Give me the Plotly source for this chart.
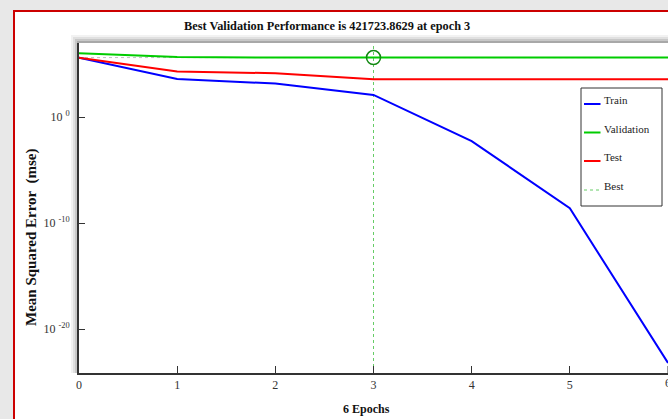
import plotly.graph_objects as go

# ---- data ----
epochs = [0, 1, 2, 3, 4, 5, 6]
train = [4.17e5, 4.07e3, 1.48e3, 1.26e2, 5.5e-3, 2.5e-9, 6.3e-24]
validation = [1.1e6, 4.9e5, 4.25e5, 421723.8629, 4.23e5, 4.23e5, 4.23e5]
test = [4.17e5, 2.0e4, 1.4e4, 3.8e3, 3.8e3, 3.8e3, 3.8e3]
best_epoch = 3
best_perf = 421723.8629
ytick_vals = [1e0, 1e-10, 1e-20]
ytick_text = ["10 <sup>0</sup>", "10 <sup>-10</sup>", "10 <sup>-20</sup>"]
xtick_vals = [0, 1, 2, 3, 4, 5, 6]
legend_names = ["Train", "Validation", "Test", "Best"]

W, H = 668, 419
L, R, T, B = 79, 0, 43, 46
pw, ph = W - L - R, H - T - B

def px(x):
    return (x - L) / pw

def py(y):
    return (H - B - y) / ph

serif = "Liberation Serif, Times New Roman, serif"
C_TRAIN, C_VAL, C_TEST, C_BEST = "#0000ff", "#00cc00", "#ff0000", "#66cc66"

fig = go.Figure()
fig.add_trace(go.Scatter(x=epochs, y=train, mode="lines", name="Train",
                         line=dict(color=C_TRAIN, width=2)))
fig.add_trace(go.Scatter(x=epochs, y=validation, mode="lines", name="Validation",
                         line=dict(color=C_VAL, width=2)))
fig.add_trace(go.Scatter(x=epochs, y=test, mode="lines", name="Test",
                         line=dict(color=C_TEST, width=2)))
fig.add_trace(go.Scatter(x=[best_epoch], y=[best_perf], mode="markers", name="Best",
                         marker=dict(symbol="circle-open", size=14, color="#118811",
                                     line=dict(width=1.5))))

shapes = []
# best dotted guide lines
shapes.append(dict(type="line", xref="x", yref="paper", x0=best_epoch, x1=best_epoch,
                   y0=0, y1=1, line=dict(color=C_BEST, width=1, dash="dot"), layer="below"))
shapes.append(dict(type="line", xref="paper", yref="y", x0=0, x1=1,
                   y0=best_perf, y1=best_perf, line=dict(color="#c0c0c0", width=1, dash="dot"),
                   layer="below"))
# outer gray area
shapes.append(dict(type="rect", xref="paper", yref="paper", x0=px(0), x1=px(13),
                   y0=py(H), y1=py(0), fillcolor="#e8e8e8", line=dict(width=0), layer="below"))
shapes.append(dict(type="rect", xref="paper", yref="paper", x0=px(0), x1=px(W),
                   y0=py(10), y1=py(0), fillcolor="#e8e8e8", line=dict(width=0), layer="below"))
# red frame
shapes.append(dict(type="rect", xref="paper", yref="paper", x0=px(14), x1=px(W + 3),
                   y0=py(H + 3), y1=py(11), line=dict(color="#cc0000", width=2)))
# axis shadows
for i, c in enumerate(["#f2f2f2", "#e0e0e0", "#c8c8c8", "#a8a8a8"]):
    shapes.append(dict(type="rect", xref="paper", yref="paper", x0=px(71 + 2 * i), x1=px(79),
                       y0=py(H - B), y1=py(T - 8 + 2 * i), fillcolor=c, line=dict(width=0),
                       layer="below"))
    shapes.append(dict(type="rect", xref="paper", yref="paper", x0=px(71 + 2 * i), x1=px(W),
                       y0=py(T), y1=py(T - 8 + 2 * i), fillcolor=c, line=dict(width=0),
                       layer="below"))

# manual legend box
shapes.append(dict(type="rect", xref="paper", yref="paper", x0=px(581), x1=px(662),
                   y0=py(206), y1=py(88), fillcolor="white",
                   line=dict(color="#333333", width=1)))
leg_line_y = [104, 132.5, 161, 190]
leg_text_y = [100, 129, 157, 186]
leg_colors = [C_TRAIN, C_VAL, C_TEST, C_BEST]
annotations = []
for name, ly, ty, col in zip(legend_names, leg_line_y, leg_text_y, leg_colors):
    shapes.append(dict(type="line", xref="paper", yref="paper", x0=px(584), x1=px(600.5),
                       y0=py(ly), y1=py(ly),
                       line=dict(color=col, width=2 if name != "Best" else 1,
                                 dash="solid" if name != "Best" else "dot")))
    annotations.append(dict(text=name, xref="paper", yref="paper", x=px(602), y=py(ty),
                            xanchor="left", yanchor="middle", showarrow=False,
                            font=dict(family=serif, size=11, color="#222222")))

annotations += [
    dict(text="<b>Best Validation Performance is 421723.8629 at epoch 3</b>",
         xref="paper", yref="paper", x=px(326.5), y=py(26), showarrow=False,
         font=dict(family=serif, size=12.3, color="#111111"), xanchor="center", yanchor="middle"),
    dict(text="<b>Mean Squared Error  (mse)</b>", xref="paper", yref="paper",
         x=px(31), y=py(237), showarrow=False, textangle=-90,
         font=dict(family=serif, size=15, color="#111111"), xanchor="center", yanchor="middle"),
    dict(text="<b>6 Epochs</b>", xref="paper", yref="paper", x=px(366), y=py(409),
         showarrow=False, font=dict(family=serif, size=12, color="#111111"),
         xanchor="center", yanchor="middle"),
    # last x tick label, half cut by the window edge as in the reference
    dict(text=str(xtick_vals[-1]), xref="x", yref="paper", x=xtick_vals[-1], y=py(383),
         showarrow=False, font=dict(family=serif, size=12, color="#333333"),
         xanchor="center", yanchor="middle"),
]

fig.update_layout(
    width=W, height=H,
    margin=dict(l=L, r=R, t=T, b=B, pad=0),
    paper_bgcolor="white", plot_bgcolor="white",
    showlegend=False,
    shapes=shapes, annotations=annotations,
    xaxis=dict(range=[0, 6], tickvals=xtick_vals[:-1], ticks="inside", ticklen=7,
               tickcolor="#333333", showline=True, linecolor="#333333", linewidth=2,
               showgrid=False, zeroline=False, mirror=False,
               tickfont=dict(family=serif, size=12, color="#333333")),
    yaxis=dict(type="log", range=[-24.15, 7.0], tickvals=ytick_vals, ticktext=ytick_text,
               ticks="inside", ticklen=6, tickcolor="#333333", showline=True,
               linecolor="#333333", linewidth=2, showgrid=False, zeroline=False,
               mirror=False, ticklabelstandoff=5,
               tickfont=dict(family=serif, size=12, color="#333333")),
)
# tick mark at the last epoch (label drawn as annotation)
fig.add_shape(type="line", xref="x", yref="paper", x0=xtick_vals[-1], x1=xtick_vals[-1],
              y0=0, y1=7 / ph, line=dict(color="#333333", width=1))

fig.write_html("out.html", config={"displayModeBar": False},
               post_script="document.body.style.margin='0px';document.body.style.overflow='hidden';")
